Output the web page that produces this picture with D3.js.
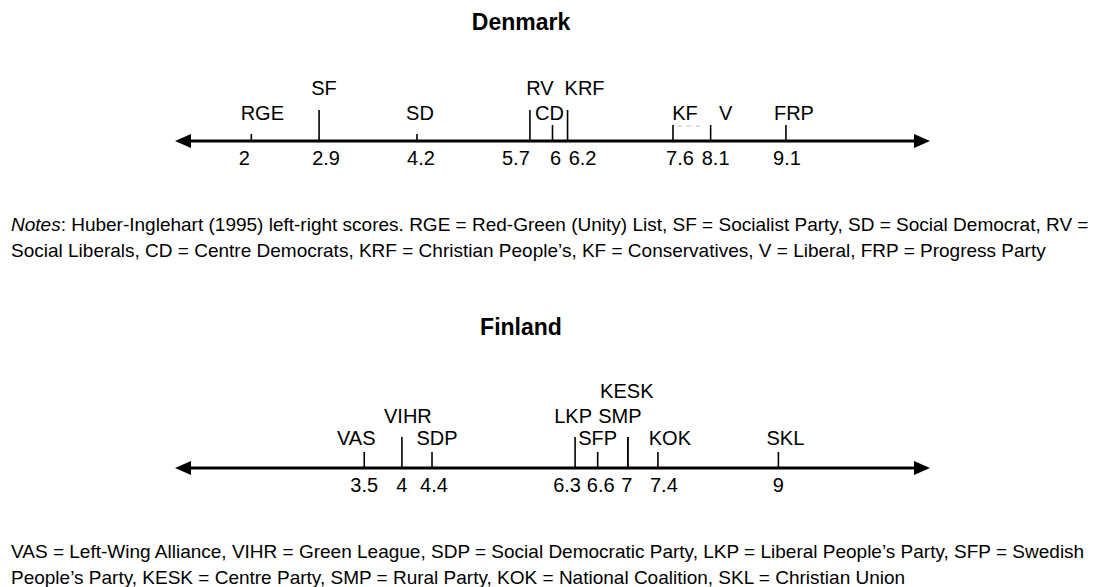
<!DOCTYPE html>
<html>
<head>
<meta charset="utf-8">
<script src="https://cdn.jsdelivr.net/npm/d3@7"></script>
<style>
  body { margin: 0; background: #fff; }
  text { font-family: "Liberation Sans", Arial, sans-serif; fill: #000; }
</style>
</head>
<body>
<div class="chart"></div>
<script>
var width = 1094, height = 587;

// data
var dkParties = ["RGE", "SF", "SD", "RV", "CD", "KRF", "KF", "V", "FRP"];
var dkScores  = [2, 2.9, 4.2, 5.7, 6, 6.2, 7.6, 8.1, 9.1];
var dkNotes = [
  ["Notes", ": Huber-Inglehart (1995) left-right scores. RGE = Red-Green (Unity) List, SF = Socialist Party, SD = Social Democrat, RV ="],
  ["", "Social Liberals, CD = Centre Democrats, KRF = Christian People\u2019s, KF = Conservatives, V = Liberal, FRP = Progress Party"]
];

var fiParties = ["VAS", "VIHR", "SDP", "LKP", "SFP", "KESK", "SMP", "KOK", "SKL"];
var fiScores  = [3.5, 4, 4.4, 6.3, 6.6, 7, 7, 7.4, 9];
var fiNotes = [
  ["", "VAS = Left-Wing Alliance, VIHR = Green League, SDP = Social Democratic Party, LKP = Liberal People\u2019s Party, SFP = Swedish"],
  ["", "People\u2019s Party, KESK = Centre Party, SMP = Rural Party, KOK = National Coalition, SKL = Christian Union"]
];

// layout: label row (1 = nearest the line), nudge and tick length
var labelLayout = {
  RGE: {row: 1, dx: 11, tick: 7},  SF: {row: 2, dx: 5, tick: 31},  SD: {row: 1, dx: 3, tick: 7},
  RV: {row: 2, dx: 10, tick: 31},  CD: {row: 1, dx: -3, tick: 16}, KRF: {row: 2, dx: 17, tick: 31},
  KF: {row: 1, dx: 12, tick: 16},  V: {row: 1, dx: 15, tick: 16},  FRP: {row: 1, dx: 8, tick: 16},
  VAS: {row: 1, dx: -8, tick: 16}, VIHR: {row: 2, dx: 6, tick: 31}, SDP: {row: 1, dx: 5, tick: 16},
  LKP: {row: 2, dx: -2, tick: 31}, SFP: {row: 1, dx: 0, tick: 16}, KESK: {row: 3, dx: -1, tick: 31},
  SMP: {row: 2, dx: -8, tick: 31}, KOK: {row: 1, dx: 12, tick: 16}, SKL: {row: 1, dx: 7, tick: 16}
};
var numberNudge = {
  dk: {"2": -7, "2.9": 7, "4.2": 4, "5.7": -14, "6": 3, "6.2": 15, "7.6": 7, "8.1": 5, "9.1": 1},
  fi: {"3.5": 0, "4": 0, "4.4": 2, "6.3": -8, "6.6": 3, "7": -1, "7.4": 6, "9": 0}
};

var x = d3.scaleLinear().domain([1, 11]).range([176, 929]);

var svg = d3.select(".chart").append("svg")
  .attr("width", width)
  .attr("height", height);

svg.append("rect").attr("width", "100%").attr("height", "100%").attr("fill", "#fff");

function drawPanel(key, title, parties, scores, notes, o) {
  var g = svg.append("g");

  g.append("text")
    .attr("x", 521).attr("y", o.titleY)
    .attr("text-anchor", "middle")
    .style("font-size", "23px").style("font-weight", "bold")
    .text(title);

  var x0 = x.range()[0] - 1, x1 = x.range()[1] + 1, y = o.axisY;
  g.append("line")
    .attr("x1", x0 + 8).attr("x2", x1 - 8)
    .attr("y1", y).attr("y2", y)
    .attr("stroke", "#000").attr("stroke-width", 2.8);

  g.append("path")
    .attr("d", "M" + x0 + "," + y + "L" + (x0 + 16) + "," + (y - 7) + "L" + (x0 + 16) + "," + (y + 7) + "Z")
    .attr("fill", "#000");
  g.append("path")
    .attr("d", "M" + x1 + "," + y + "L" + (x1 - 16) + "," + (y - 7) + "L" + (x1 - 16) + "," + (y + 7) + "Z")
    .attr("fill", "#000");

  var pts = parties.map(function(p, i) { return {name: p, v: scores[i], l: labelLayout[p]}; });

  g.selectAll(".tick").data(pts).enter().append("line")
    .attr("x1", function(d) { return x(d.v); })
    .attr("x2", function(d) { return x(d.v); })
    .attr("y1", o.axisY)
    .attr("y2", function(d) { return o.axisY - d.l.tick; })
    .attr("stroke", "#000").attr("stroke-width", 1.6);

  g.selectAll(".plabel").data(pts).enter().append("text")
    .attr("x", function(d) { return x(d.v) + d.l.dx; })
    .attr("y", function(d) { return o.rows[d.l.row - 1]; })
    .attr("text-anchor", "middle")
    .style("font-size", "20px")
    .text(function(d) { return d.name; });

  var uniq = Array.from(new Set(scores));
  g.selectAll(".num").data(uniq).enter().append("text")
    .attr("x", function(d) { return x(d) + numberNudge[key][String(d)]; })
    .attr("y", o.axisY + 24)
    .attr("text-anchor", "middle")
    .style("font-size", "20px")
    .text(function(d) { return String(d); });

  var nt = g.selectAll(".note").data(notes).enter().append("text")
    .attr("x", 11)
    .attr("y", function(d, i) { return o.notesY + i * 26; })
    .style("font-size", "19px");
  nt.append("tspan").style("font-style", "italic").text(function(d) { return d[0]; });
  nt.append("tspan").text(function(d) { return d[1]; });
  return g;
}

var dk = drawPanel("dk", "Denmark", dkParties, dkScores, dkNotes,
  {titleY: 30, axisY: 141, rows: [120, 95], notesY: 231});
var fi = drawPanel("fi", "Finland", fiParties, fiScores, fiNotes,
  {titleY: 335, axisY: 468, rows: [445, 423, 398], notesY: 558});

// faint dashes left under the KF label in the original
dk.append("line")
  .attr("x1", x(7.6) + 5).attr("x2", x(8.1) - 8)
  .attr("y1", 126).attr("y2", 126)
  .attr("stroke", "#bbb").attr("stroke-width", 1)
  .attr("stroke-dasharray", "4,5");
</script>
</body>
</html>
